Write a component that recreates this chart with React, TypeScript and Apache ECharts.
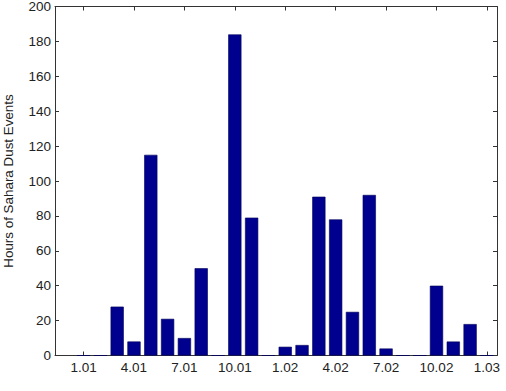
import React, { useEffect, useRef } from "react";
import * as echarts from "echarts";

const monthIndex = [0, 1, 2, 3, 4, 5, 6, 7, 8, 9, 10, 11, 12, 13, 14, 15, 16, 17, 18, 19, 20, 21, 22, 23, 24];
const dustHours = [0, 0, 28, 8, 115, 21, 10, 50, 0, 184, 79, 0, 5, 6, 91, 78, 25, 92, 4, 0, 0, 40, 8, 18, 0];
const tickPositions = [0, 3, 6, 9, 12, 15, 18, 21, 24];
const tickLabels = ["1.01", "4.01", "7.01", "10.01", "1.02", "4.02", "7.02", "10.02", "1.03"];
const yTicks = [0, 20, 40, 60, 80, 100, 120, 140, 160, 180, 200];

export default function App() {
  const ref = useRef<HTMLDivElement>(null);
  useEffect(() => {
    if (!ref.current) return;
    const chart = echarts.init(ref.current, undefined, { renderer: "svg" });
    const axisColor = "#333";
    const font = "Liberation Sans, Arial, sans-serif";
    const xCommon = {
      type: "value",
      min: -1.7,
      max: 24.6,
      splitLine: { show: false },
      axisLine: { show: true, onZero: false, lineStyle: { color: axisColor, width: 1 } },
    };
    const yCommon = {
      type: "value",
      min: 0,
      max: 200,
      interval: 20,
      splitLine: { show: false },
      axisLine: { show: true, onZero: false, lineStyle: { color: axisColor, width: 1 } },
    };
    chart.setOption({
      animation: false,
      backgroundColor: "#fff",
      grid: { left: 55, right: 9, top: 6.5, bottom: 35.5, outerBoundsMode: "none", containLabel: false },
      xAxis: [
        {
          ...xCommon,
          position: "bottom",
          axisTick: { show: true, inside: true, length: 4, customValues: tickPositions, lineStyle: { color: axisColor } },
          axisLabel: {
            show: true,
            customValues: tickPositions,
            formatter: (v: number) => tickLabels[tickPositions.indexOf(Math.round(v))] ?? "",
            color: "#222",
            fontSize: 13.5,
            fontFamily: font,
            margin: 5,
          },
        },
        {
          ...xCommon,
          position: "top",
          axisTick: { show: true, inside: true, length: 4, customValues: tickPositions, lineStyle: { color: axisColor } },
          axisLabel: { show: false },
        },
      ],
      yAxis: [
        {
          ...yCommon,
          position: "left",
          name: "Hours of Sahara Dust Events",
          nameLocation: "middle",
          nameGap: 40,
          nameTextStyle: { fontSize: 13.4, fontFamily: font, color: "#222" },
          axisTick: { show: true, inside: true, length: 4, lineStyle: { color: axisColor } },
          axisLabel: { show: true, color: "#222", fontSize: 13.5, fontFamily: font, margin: 4, customValues: yTicks },
        },
        {
          ...yCommon,
          position: "right",
          axisTick: { show: true, inside: true, length: 4, lineStyle: { color: axisColor } },
          axisLabel: { show: false },
        },
      ],
      series: [
        {
          type: "bar",
          xAxisIndex: 0,
          yAxisIndex: 0,
          barWidth: 13.2,
          data: monthIndex.map((m, i) => [m, dustHours[i]]),
          itemStyle: { color: "#00008f", borderColor: "#00005a", borderWidth: 0.6 },
        },
      ],
    });
    return () => chart.dispose();
  }, []);
  return <div ref={ref} style={{ position: "absolute", left: 0, top: 0, width: 506, height: 391 }} />;
}
